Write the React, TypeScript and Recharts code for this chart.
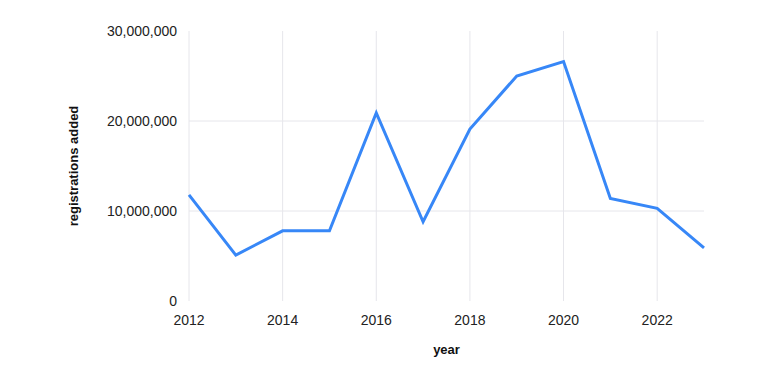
import { LineChart, Line, XAxis, YAxis, CartesianGrid, Label } from "recharts";

const years = [2012, 2013, 2014, 2015, 2016, 2017, 2018, 2019, 2020, 2021, 2022, 2023];
const registrations = [
  11800000, 5100000, 7800000, 7800000, 20900000, 8800000,
  19100000, 25000000, 26600000, 11400000, 10300000, 5900000,
];
const yearTicks = [2012, 2014, 2016, 2018, 2020, 2022];
const valueTicks = [0, 10000000, 20000000, 30000000];
const gridValues = [10000000, 20000000];

const data = years.map((year, i) => ({ year, value: registrations[i] }));

const font = "'Liberation Sans', Arial, sans-serif";

const YTitle = ({ viewBox }: any) => {
  const cy = viewBox.y + viewBox.height / 2;
  return (
    <text
      x={73}
      y={cy}
      transform={`rotate(-90, 73, ${cy})`}
      textAnchor="middle"
      dominantBaseline="central"
      fontFamily={font}
      fontSize={13}
      fontWeight="bold"
      fill="#111"
    >
      registrations added
    </text>
  );
};

export default function App() {
  return (
    <div style={{ position: "absolute", left: 0, top: 0, width: 768, height: 384, background: "#fff" }}>
      <LineChart
        width={768}
        height={384}
        data={data}
        margin={{ top: 31, right: 64, bottom: 53, left: 69 }}
      >
        <CartesianGrid
          stroke="#e6e6eb"
          horizontalValues={gridValues}
          verticalValues={yearTicks}
        />
        <XAxis
          dataKey="year"
          type="number"
          domain={[2012, 2023]}
          ticks={yearTicks}
          axisLine={false}
          tickLine={false}
          tickMargin={8}
          height={30}
          tick={{ fontSize: 14, fill: "#222", fontFamily: font }}
        >
          <Label
            value="year"
            position="bottom"
            offset={14}
            style={{ fontSize: 13, fontWeight: "bold", fill: "#111", fontFamily: font }}
          />
        </XAxis>
        <YAxis
          type="number"
          domain={[0, 30000000]}
          ticks={valueTicks}
          axisLine={false}
          tickLine={false}
          tickMargin={6}
          width={120}
          tickFormatter={(v: number) => v.toLocaleString("en-US")}
          tick={{ fontSize: 14, fill: "#222", fontFamily: font }}
        >
          <Label content={<YTitle />} />
        </YAxis>
        <Line
          type="linear"
          dataKey="value"
          stroke="#3787f7"
          strokeWidth={3}
          dot={false}
          isAnimationActive={false}
        />
      </LineChart>
    </div>
  );
}
